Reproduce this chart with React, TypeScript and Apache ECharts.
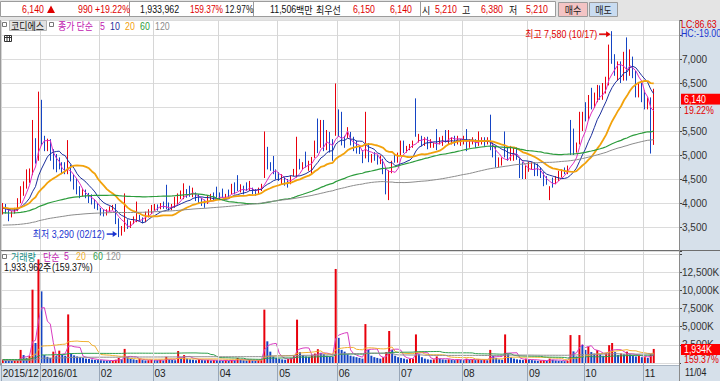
import React, { useEffect, useRef } from 'react';
import * as echarts from 'echarts';

const FONT = '"Liberation Sans", Arial, "Noto Sans CJK KR", sans-serif';
const KFONT = '"Noto Sans CJK KR", "Liberation Sans", sans-serif';

// ---- categories (trading days per month) ----
const monthLabels = ['2015/12', '2016/01', '02', '03', '04', '05', '06', '07', '08', '09', '10', '11'];
const monthDays = [13, 20, 18, 22, 20, 20, 21, 21, 22, 19, 20, 4];
const PAD_SLOTS = 8;
const lastDateLabel = '11/04';

// ---- daily candles: [open, close, low, high] ----
const ohlc: number[][] = [
  // 2015/12
  [3800, 3950, 3760, 4000], [3950, 3820, 3780, 3980], [3850, 3720, 3620, 3880], [3720, 3800, 3700, 3830],
  [3800, 3860, 3780, 3900], [3850, 4060, 3830, 4100], [4050, 4220, 4000, 4350], [4200, 4400, 4150, 4450],
  [4380, 4520, 4300, 4700], [4500, 4650, 4420, 4720], [4600, 5300, 4580, 5730], [5250, 4880, 4820, 5350],
  [4900, 5950, 4880, 6320],
  // 2016/01
  [5730, 5250, 5200, 6150], [5330, 5100, 5080, 5400], [5100, 5320, 5080, 5340], [5310, 4900, 4880, 5330],
  [5100, 4720, 4700, 5120], [5000, 4660, 4640, 5020], [4930, 4720, 4700, 4950], [4830, 4620, 4600, 4850],
  [4830, 4620, 4600, 4850], [4620, 4860, 4600, 5310], [4790, 4480, 4450, 4800], [4580, 4310, 4280, 4600],
  [4480, 4200, 4180, 4500], [4340, 4130, 4100, 4350], [4160, 4270, 4140, 4290], [4270, 4130, 4100, 4280],
  [4200, 4030, 4000, 4210], [4170, 3990, 3970, 4180], [4060, 3900, 3880, 4080], [3990, 3890, 3850, 4000],
  // 02
  [3890, 3760, 3740, 3900], [3850, 3750, 3720, 3870], [3760, 3850, 3740, 3870], [3850, 3900, 3820, 3930],
  [3870, 3920, 3850, 3960], [3960, 3580, 3560, 3980], [3650, 3350, 3290, 3680], [3350, 3500, 3320, 3520],
  [3420, 3650, 3400, 4200], [3640, 3480, 3460, 3660], [3500, 3600, 3480, 3620], [3580, 3700, 3560, 3720],
  [3620, 3740, 3600, 4030], [3740, 3640, 3620, 3750], [3680, 3610, 3580, 3700], [3610, 3800, 3600, 3820],
  [3720, 3850, 3700, 3870], [3790, 3950, 3770, 3960],
  // 03
  [3860, 3960, 3840, 3980], [3960, 3860, 3840, 3970], [3890, 3990, 3870, 4000], [4020, 3900, 3880, 4030],
  [4360, 3890, 3870, 4380], [3990, 3860, 3840, 4010], [3860, 3960, 3850, 3980], [3920, 4060, 3900, 4130],
  [4000, 4130, 3980, 4200], [4100, 4240, 4080, 4260], [4100, 4240, 4080, 4410], [4270, 4130, 4110, 4290],
  [4310, 4150, 4130, 4360], [4140, 4300, 4120, 4320], [4200, 4060, 4040, 4220], [4170, 4000, 3980, 4180],
  [4100, 3960, 3940, 4110], [4060, 3920, 3900, 4070], [4000, 4130, 3980, 4150], [4060, 4170, 4040, 4190],
  [4200, 4060, 4040, 4220], [4270, 4130, 4110, 4340],
  // 04
  [4200, 4100, 4080, 4220], [4270, 4130, 4110, 4300], [4100, 4170, 4080, 4190], [4240, 4130, 4110, 4280],
  [4200, 4380, 4180, 4400], [4410, 4200, 4180, 4430], [4480, 4270, 4250, 4580], [4240, 4370, 4220, 4390],
  [4340, 4200, 4180, 4360], [4410, 4270, 4250, 4430], [4270, 4440, 4250, 4460], [4300, 4200, 4180, 4320],
  [4270, 4170, 4150, 4290], [4200, 4300, 4180, 4320], [4270, 4380, 4250, 4400], [4550, 4830, 4520, 5490],
  [4960, 4720, 4700, 5170], [4830, 4690, 4670, 4850], [4960, 4620, 4600, 4980], [4690, 4510, 4490, 4700],
  // 05
  [4620, 4480, 4460, 4640], [4410, 4580, 4390, 4600], [4510, 4380, 4360, 4530], [4480, 4340, 4320, 4500],
  [4410, 4550, 4390, 4570], [4580, 4690, 4560, 4710], [4550, 4790, 4530, 5380], [4900, 4720, 4700, 4920],
  [4720, 4830, 4700, 4850], [4960, 4760, 4740, 5070], [4690, 4860, 4670, 4880], [4620, 4930, 4600, 4960],
  [4960, 5270, 4940, 5300], [5590, 5070, 5040, 5760], [5170, 5450, 5150, 5730], [5700, 5100, 5080, 5730],
  [5130, 5480, 5100, 5520], [5450, 5070, 5050, 5480], [5310, 4900, 4880, 5330], [5420, 6100, 5400, 6490],
  // 06
  [5900, 5420, 5380, 5950], [5600, 5250, 5200, 5900], [5350, 5180, 5150, 5400], [5380, 5550, 5350, 5580],
  [5450, 5240, 5200, 5480], [5350, 5110, 5080, 5380], [5280, 5070, 5030, 5300], [5170, 5070, 5020, 5200],
  [5070, 4860, 4830, 5100], [4950, 5500, 4930, 5900], [5200, 4880, 4850, 5250], [4860, 5000, 4840, 5020],
  [5040, 4900, 4880, 5060], [4960, 4830, 4800, 5000], [4830, 4970, 4810, 4990], [4900, 4620, 4600, 4920],
  [4720, 4200, 4180, 4750], [4270, 4650, 4060, 4680], [4650, 4860, 4620, 4880], [5000, 4860, 4840, 5020],
  [4860, 5030, 4840, 5050],
  // 07
  [5000, 5280, 4980, 5300], [5280, 5070, 5040, 5300], [5070, 5170, 5050, 5190], [5130, 5210, 5100, 5230],
  [5170, 5280, 5150, 5300], [6150, 5420, 5380, 6180], [5280, 5420, 5260, 5440], [5380, 5210, 5180, 5400],
  [5210, 5350, 5190, 5370], [5350, 5140, 5120, 5380], [5170, 5310, 5150, 5330], [5170, 5240, 5150, 5260],
  [5520, 5140, 5100, 5540], [5240, 5350, 5220, 5370], [5210, 5380, 5190, 5400], [5420, 5280, 5260, 5520],
  [5240, 5450, 5220, 5520], [5240, 5350, 5220, 5370], [5380, 5210, 5190, 5400], [5240, 5380, 5220, 5400],
  [5210, 5310, 5190, 5330],
  // 08
  [5240, 5380, 5220, 5400], [5380, 5100, 5080, 5540], [5170, 5310, 5150, 5330], [5240, 5350, 5220, 5370],
  [5310, 5170, 5150, 5330], [5210, 5350, 5190, 5490], [5240, 5350, 5220, 5370], [5350, 5210, 5190, 5370],
  [5240, 5350, 5220, 5370], [5830, 5140, 5100, 5840], [5240, 4970, 4950, 5260], [5170, 4760, 4740, 5180],
  [4760, 4930, 4740, 4950], [4800, 4930, 4780, 4950], [5070, 4970, 4950, 5490], [5170, 4900, 4880, 5180],
  [4900, 5170, 4880, 5190], [4900, 5140, 4880, 5160], [5140, 4930, 4900, 5160], [4900, 4550, 4520, 4920],
  [4830, 4520, 4500, 4850], [4520, 4750, 4500, 4780],
  // 09
  [4690, 4830, 4650, 4860], [4720, 4830, 4700, 4850], [4830, 4590, 4560, 4850], [4800, 4590, 4560, 4820],
  [4720, 4550, 4520, 4740], [4620, 4380, 4350, 4640], [4550, 4410, 4380, 4560], [4100, 4340, 4060, 4350],
  [4510, 4340, 4320, 4530], [4410, 4550, 4390, 4560], [4480, 4650, 4460, 4670], [4550, 4690, 4530, 4700],
  [4720, 4620, 4600, 4740], [4620, 4760, 4600, 4780], [5700, 5040, 5000, 5730], [5500, 5040, 5000, 5550],
  [5070, 5240, 5050, 5260], [5240, 5690, 5220, 5900], [5520, 5730, 5500, 5900],
  // 10
  [5950, 5750, 5700, 6100], [5750, 6200, 5720, 6250], [6150, 6000, 5950, 6400], [6000, 6250, 5980, 6300],
  [6150, 6420, 6100, 6460], [6400, 6200, 6150, 6450], [6200, 6420, 6150, 6500], [6300, 6550, 6280, 6630],
  [6490, 7290, 6450, 7300], [7400, 6980, 6900, 7580], [7000, 6700, 6650, 7100], [6600, 6900, 6550, 6950],
  [6900, 6530, 6500, 6950], [6600, 7120, 6550, 7150], [7250, 6600, 6550, 7450], [6700, 7150, 6650, 7200],
  [7010, 6650, 6600, 7050], [6700, 6250, 6200, 6750], [6250, 6480, 6200, 6500], [6480, 6150, 6100, 6500],
  // 11
  [6300, 6000, 5950, 6350], [6000, 6150, 5950, 6200], [6150, 5150, 5030, 6200], [5210, 6140, 5210, 6380],
];

// ---- daily volume, thousand shares ----
const volumes: number[] = [
  480, 420, 350, 300, 330, 420, 1800, 1090, 700, 950, 10085, 2750, 14250,
  9850, 1100, 850, 700, 1560, 950, 1700, 1150, 1000, 6680, 1300, 1050, 900, 800, 700, 600, 550, 480, 420, 400,
  380, 350, 330, 300, 320, 450, 700, 500, 1940, 800, 600, 500, 420, 600, 400, 350, 380, 420,
  400, 380, 420, 350, 850, 500, 420, 380, 1650, 700, 1090, 600, 500, 450, 380, 520, 400, 380, 420, 350, 400, 380,
  350, 320, 380, 300, 420, 380, 700, 450, 380, 350, 420, 380, 330, 400, 450, 7340, 2980, 1560, 900, 700,
  600, 500, 450, 550, 700, 1000, 5960, 1500, 1100, 900, 850, 1100, 1300, 1900, 1400, 1200, 1000, 900, 850, 12930,
  3460, 1800, 1560, 1200, 1000, 900, 800, 700, 600, 5350, 1800, 1000, 800, 700, 600, 800, 1500, 4400, 1800, 1000, 800,
  700, 600, 500, 550, 600, 3930, 1200, 800, 600, 500, 450, 500, 900, 600, 500, 450, 500, 450, 400, 500, 450,
  400, 600, 450, 500, 400, 550, 400, 450, 380, 1800, 1000, 700, 500, 450, 3930, 1200, 800, 600, 500, 450, 400, 600,
  500, 400, 350, 300, 350, 400, 300, 600, 450, 350, 300, 280, 250, 300, 3840, 1600, 900, 3840, 2500,
  1800, 2270, 1500, 1300, 1800, 1200, 1000, 1400, 2450, 2750, 1500, 1100, 1300, 1200, 1560, 1200, 1000, 900, 1000, 800,
  800, 700, 1213, 1934,
];

// ---- moving averages ----
const priceMaPeriods = [5, 10, 20, 60, 120];
const priceMaColors = ['#e02cc0', '#1c2f9c', '#f2a20c', '#2c9c3c', '#8c8c8c'];
const priceMaWidths = [1, 1, 1.8, 1.2, 1];
const priceMaSeeds = [3880, 3880, 3900, 3790, 3535];
const volMaPeriods = [5, 20, 60, 120];
const volMaColors = ['#d83cc0', '#f0b030', '#30a050', '#909090'];
const volMaSeeds = [420, 420, 480, 330];

// ---- axis ticks ----
const priceAxis = { min: 3000, max: 7800, step: 500, labelMin: 3500, labelMax: 7000 };
const volAxis = { min: 0, max: 15400, step: 2500, labelMin: 2500, labelMax: 12500 };

// ---- header / annotation texts ----
const headerVolume = '1,933,962';
const headerVolRatio = '159.37%';
const headerTurnover = '12.97%';
const headerValue = '11,506';
const bestAsk = '6,150';
const highLabel = '최고 7,580 (10/17)';
const lowLabel = '최저 3,290 (02/12)';
const lcText = 'LC:86.63';
const hcText = 'HC:-19.00';

const UP = '#e8000c';
const DOWN = '#1444c4';
const RED_TXT = '#e00000';
const BLUE_TXT = '#1a34d0';
const PANEL = '#d6e0ea';

function sma(values: number[], n: number, seed: number): number[] {
  return values.map((_, i) => {
    let s = 0;
    for (let k = i - n + 1; k <= i; k++) s += k >= 0 ? values[k] : seed;
    return Math.round((s / n) * 100) / 100;
  });
}
const fmt = (v: number) => v.toLocaleString('en-US');

const categories: string[] = [];
const monthStartLabel = new Map<number, string>();
monthLabels.forEach((m, k) => {
  monthStartLabel.set(categories.length, m);
  for (let d = 1; d <= monthDays[k]; d++) categories.push(`${m}-${d}`);
});
for (let p = 0; p < PAD_SLOTS; p++) categories.push(`pad-${p}`);
const isMonthStart = (i: number) => monthStartLabel.has(i);

function buildOption(): any {
  const closes = ohlc.map((r) => r[1]);
  const splitLine = { show: true, interval: (i: number) => isMonthStart(i), lineStyle: { color: '#d6d6d6', width: 1 } };
  const series: any[] = [
    {
      type: 'candlestick', xAxisIndex: 0, yAxisIndex: 0, data: ohlc, barWidth: 1.2, z: 3,
      itemStyle: { color: UP, color0: DOWN, borderColor: UP, borderColor0: DOWN, borderWidth: 1 },
    },
    ...priceMaPeriods.map((n, k) => ({
      type: 'line', xAxisIndex: 0, yAxisIndex: 0, data: sma(closes, n, priceMaSeeds[k]),
      symbol: 'none', showSymbol: false, z: 4,
      lineStyle: { color: priceMaColors[k], width: priceMaWidths[k] },
    })),
    {
      type: 'bar', xAxisIndex: 1, yAxisIndex: 1, barWidth: 2, z: 3,
      data: volumes.map((v, i) => ({ value: v, itemStyle: { color: i > 0 && v < volumes[i - 1] ? DOWN : UP } })),
    },
    ...volMaPeriods.map((n, k) => ({
      type: 'line', xAxisIndex: 1, yAxisIndex: 1, data: sma(volumes, n, volMaSeeds[k]),
      symbol: 'none', showSymbol: false, z: 4,
      lineStyle: { color: volMaColors[k], width: 1 },
    })),
  ];
  const yCommon = (a: any, suffix: string) => ({
    type: 'value', position: 'right', min: a.min, max: a.max, interval: a.step,
    axisLine: { show: true, lineStyle: { color: '#8a8a8a' } },
    axisTick: { show: true, length: 3, lineStyle: { color: '#444' } },
    axisLabel: {
      margin: 3, fontSize: 10, color: '#333', fontFamily: FONT,
      formatter: (v: number) => (v >= a.labelMin && v <= a.labelMax && v % a.step === 0 ? fmt(v) + suffix : ''),
    },
    splitLine: { show: true, lineStyle: { color: '#dcdcdc', width: 1 } },
  });
  return {
    animation: false,
    backgroundColor: 'transparent',
    grid: [
      { left: 1.3, right: 41, top: 20.6, height: 230.4, outerBoundsMode: 'none' },
      { left: 1.3, right: 41, top: 251, height: 112, outerBoundsMode: 'none' },
    ],
    xAxis: [
      {
        type: 'category', gridIndex: 0, data: categories, boundaryGap: true,
        axisLine: { show: false }, axisTick: { show: false }, axisLabel: { show: false }, splitLine,
      },
      {
        type: 'category', gridIndex: 1, data: categories, boundaryGap: true, z: 6,
        axisLine: { show: false },
        axisTick: { show: true, interval: (i: number) => isMonthStart(i), length: 18, lineStyle: { color: '#97a6b8' } },
        axisLabel: {
          show: true, interval: (i: number) => isMonthStart(i), align: 'left', margin: 5,
          showMinLabel: true, hideOverlap: false,
          fontSize: 10, color: '#222', fontFamily: FONT,
          formatter: (_v: string, i: number) => monthStartLabel.get(i) ?? '',
        },
        splitLine,
      },
    ],
    yAxis: [
      { gridIndex: 0, ...yCommon(priceAxis, '') },
      { gridIndex: 1, ...yCommon(volAxis, 'K') },
    ],
    series,
  };
}

function buildGraphics(chart: any): any[] {
  const g: any[] = [];
  const rect = (x: number, y: number, w: number, h: number, fill: string, stroke?: string, z = -10) =>
    g.push({ type: 'rect', silent: true, z, shape: { x, y, width: w, height: h }, style: { fill, stroke: stroke ?? 'none', lineWidth: 1 } });
  const line = (x1: number, y1: number, x2: number, y2: number, stroke: string, z = 8, w = 1) =>
    g.push({ type: 'line', silent: true, z, shape: { x1, y1, x2, y2 }, style: { stroke, lineWidth: w } });
  // latin text: Liberation Sans condensed with scaleX to mimic the narrow HTS font
  const text = (x: number, y: number, t: string, fill: string, align = 'left', size = 11, sx = 0.8) =>
    g.push({ type: 'text', silent: true, z: 20, x, y, scaleX: sx, style: { text: t, fill, font: `${size}px ${FONT}`, align, verticalAlign: 'middle' } });
  const ktext = (x: number, y: number, t: string, fill: string, align = 'left') =>
    g.push({ type: 'text', silent: true, z: 20, x, y, scaleX: 0.9, style: { text: t, fill, font: `10px ${KFONT}`, align, verticalAlign: 'middle' } });
  const tri = (pts: number[][], fill: string) =>
    g.push({ type: 'polygon', silent: true, z: 20, shape: { points: pts }, style: { fill } });

  // backgrounds
  rect(0, 0, 720, 20, '#e4e4e4');
  rect(679.5, 20, 41, 361, PANEL);
  rect(0, 365, 679.5, 16, PANEL);
  line(0, 365.5, 679.5, 365.5, '#a8b4c2', -5);
  line(0, 250.5, 720, 250.5, '#6e6e6e', 9);
  line(679.5, 20, 679.5, 381, '#8a8a8a', 9);
  line(0.5, 20, 0.5, 365, '#9a9a9a', 9);

  // header row
  rect(0.5, 1.5, 555, 15, '#ffffff', '#9c9c9c', -9);
  [129.5, 253.5, 420.5].forEach((x) => line(x, 1.5, x, 16.5, '#9c9c9c', -8));
  const last = ohlc[ohlc.length - 1][1];
  const prev = ohlc[ohlc.length - 2][1];
  const chg = last - prev;
  const pct = ((chg / prev) * 100).toFixed(2);
  const hy = 9.5;
  text(22, hy, fmt(last), RED_TXT);
  tri([[47, 13], [55, 13], [51, 5.5]], RED_TXT);
  text(78, hy, fmt(chg), RED_TXT);
  text(95, hy, `+${pct}%`, RED_TXT);
  text(140, hy, headerVolume, '#111');
  text(190, hy, headerVolRatio, RED_TXT, 'left', 11, 0.76);
  text(225, hy, headerTurnover, '#111', 'left', 11, 0.76);
  text(270, hy, headerValue, '#111');
  ktext(296, hy, '백만', '#111');
  ktext(316, hy, '최우선', '#111');
  text(375, hy, bestAsk, RED_TXT, 'right');
  text(412, hy, fmt(last), RED_TXT, 'right');
  ktext(422, hy, '시', '#111');
  text(457, hy, fmt(ohlc[ohlc.length - 1][0]), RED_TXT, 'right');
  ktext(462, hy, '고', '#111');
  text(503, hy, fmt(ohlc[ohlc.length - 1][3]), RED_TXT, 'right');
  ktext(509, hy, '저', '#111');
  text(548, hy, fmt(ohlc[ohlc.length - 1][2]), RED_TXT, 'right');
  rect(558.5, 2.5, 29, 14, '#f3c4c4', '#9a9a9a', -8);
  rect(589.5, 2.5, 28, 14, '#c9dcf1', '#9a9a9a', -8);
  ktext(573, hy, '매수', '#222', 'center');
  ktext(603.5, hy, '매도', '#222', 'center');

  // price legend row
  rect(2.5, 22.5, 4, 4, '#fff', '#777', 7);
  rect(9.5, 20.5, 37, 10, '#e2e2e2', '#b4b4b4', 7);
  ktext(11, 25.8, '코디에스', '#111');
  rect(49.5, 22.5, 4, 4, '#fff', '#777', 7);
  ktext(58, 25.8, '종가 단순', '#c020b0');
  const legX = [100, 110, 125, 140, 155];
  priceMaPeriods.forEach((n, k) => text(legX[k], 25.8, String(n), k === 0 ? '#c020b0' : priceMaColors[k]));
  rect(4.5, 35.5, 7, 6, '#ffffff', '#333', 7);
  line(7, 35.5, 7, 41.5, '#333', 8);
  line(9.5, 35.5, 9.5, 41.5, '#333', 8);
  line(4.5, 37.5, 11.5, 37.5, '#333', 8);

  // volume legend
  rect(2.5, 254.5, 4, 4, '#fff', '#777', 7);
  ktext(11, 256.5, '거래량', '#138c84');
  ktext(43, 256.5, '단순', '#c020b0');
  text(64, 256.5, String(volMaPeriods[0]), '#c020b0');
  const vLegX = [76, 93, 106];
  volMaPeriods.slice(1).forEach((n, k) => text(vLegX[k], 256.5, String(n), volMaColors[k + 1]));
  text(4, 266.8, headerVolume, '#111');
  ktext(43, 266.8, '주', '#111');
  text(52, 266.8, `(${headerVolRatio})`, '#111');

  // right panel texts
  text(681, 24.5, lcText, RED_TXT);
  text(681, 33, hcText, BLUE_TXT);
  text(685, 372.5, lastDateLabel, '#222');

  // last price / volume boxes
  const li = ohlc.length - 1;
  const [, py] = chart.convertToPixel({ gridIndex: 0 }, [li, last]);
  rect(681, py - 6.5, 39, 11, '#ff0000', undefined, 15);
  rect(681, py + 4.5, 39, 11, PANEL, undefined, 15);
  text(684, py - 1, fmt(last), '#ffffff');
  text(684, py + 9.5, `${pct}%`, RED_TXT);
  const lv = volumes[li];
  const [, vy] = chart.convertToPixel({ gridIndex: 1 }, [li, lv]);
  rect(681, vy - 5, 39, 11, '#ff0000', undefined, 15);
  rect(681, vy + 6, 39, 9, PANEL, undefined, 15);
  text(684, vy + 0.5, fmt(lv) + 'K', '#ffffff');
  text(684, vy + 10.5, headerVolRatio, RED_TXT);

  // high / low annotations
  let hi = 0, lo = 0;
  ohlc.forEach((r, i) => { if (r[3] > ohlc[hi][3]) hi = i; if (r[2] < ohlc[lo][2]) lo = i; });
  const [hx, hyy] = chart.convertToPixel({ gridIndex: 0 }, [hi, ohlc[hi][3]]);
  const ay = hyy + 3;
  g.push({ type: 'text', silent: true, z: 20, x: hx - 15, y: ay, scaleX: 0.85,
    style: { text: highLabel, fill: RED_TXT, font: `10.5px ${FONT}`, align: 'right', verticalAlign: 'middle' } });
  line(hx - 13, ay, hx - 5, ay, RED_TXT, 20, 1.5);
  tri([[hx - 1.5, ay], [hx - 6, ay - 3], [hx - 6, ay + 3]], RED_TXT);
  const [lx, lyy] = chart.convertToPixel({ gridIndex: 0 }, [lo, ohlc[lo][2]]);
  const by = lyy - 3;
  g.push({ type: 'text', silent: true, z: 20, x: lx - 14, y: by, scaleX: 0.85,
    style: { text: lowLabel, fill: BLUE_TXT, font: `10.5px ${FONT}`, align: 'right', verticalAlign: 'middle' } });
  line(lx - 12, by, lx - 5, by, BLUE_TXT, 20, 1.5);
  tri([[lx - 1.5, by], [lx - 6, by - 3], [lx - 6, by + 3]], BLUE_TXT);
  return g;
}

export default function App() {
  const ref = useRef<HTMLDivElement>(null);
  useEffect(() => {
    document.body.style.margin = '0';
    const chart = echarts.init(ref.current as HTMLDivElement, null, { renderer: 'svg' });
    chart.setOption(buildOption());
    chart.setOption({ graphic: buildGraphics(chart) });
    return () => chart.dispose();
  }, []);
  return <div ref={ref} style={{ width: 720, height: 381 }} />;
}
